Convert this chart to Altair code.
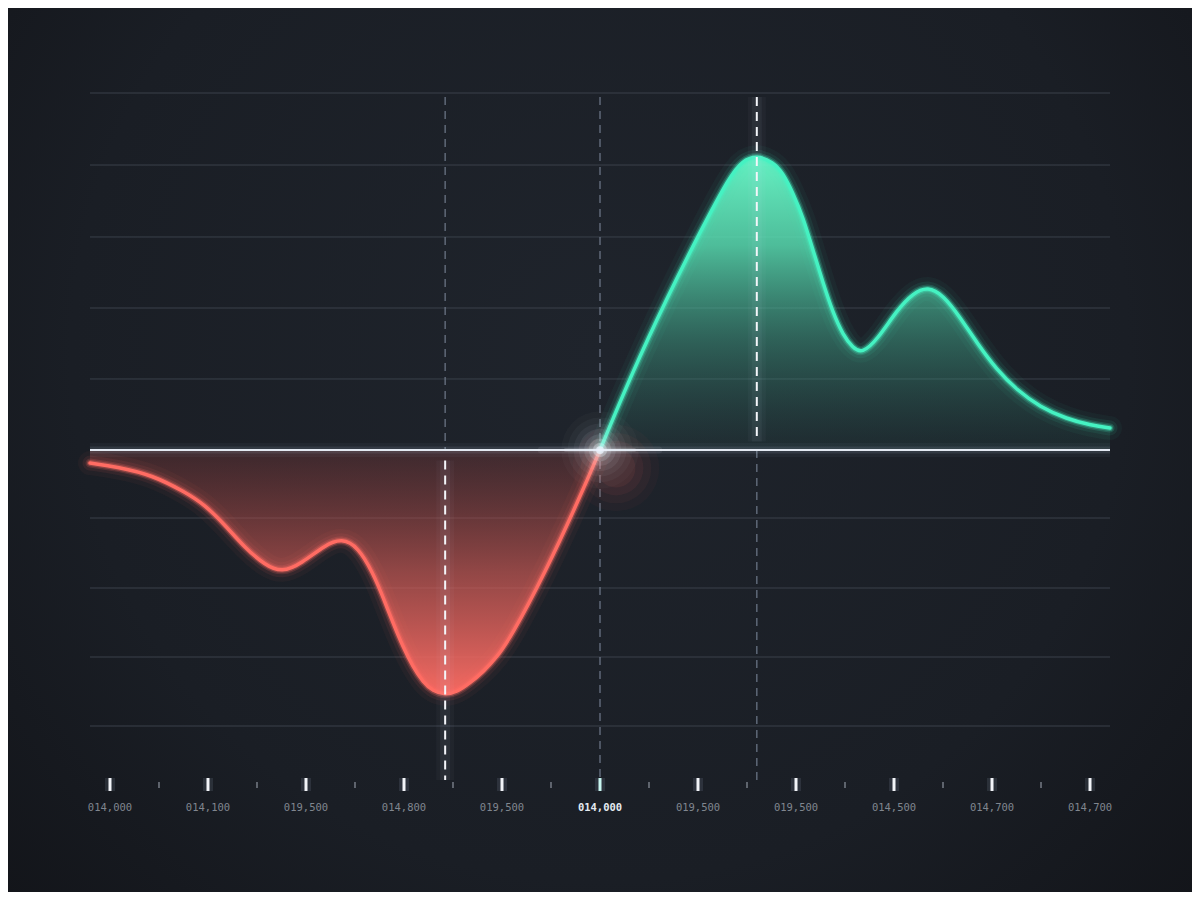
import altair as alt
import pandas as pd

# ---------------- data ----------------
red_x = [-0.204, 0.082, 0.429, 0.765, 0.969, 1.173, 1.378, 1.582, 1.755, 1.959, 2.194, 2.367,
         2.531, 2.684, 2.786, 2.888, 2.990, 3.092, 3.194, 3.296, 3.42, 3.541, 3.673, 3.806,
         3.949, 4.092, 4.439, 4.796, 5.0]
red_y = [-0.185, -0.242, -0.355, -0.597, -0.782, -1.066, -1.393, -1.635, -1.745, -1.607, -1.351, -1.255,
         -1.379, -1.749, -2.090, -2.460, -2.801, -3.085, -3.299, -3.430, -3.480, -3.441, -3.313, -3.157,
         -2.943, -2.659, -1.749, -0.668, 0.0]

green_x = [5.0, 5.327, 5.673, 6.031, 6.327, 6.449, 6.6, 6.765, 6.867, 6.969, 7.071, 7.173, 7.276,
           7.378, 7.480, 7.582, 7.673, 7.827, 8.031, 8.194, 8.347, 8.5, 8.673, 8.847, 9.051,
           9.255, 9.490, 9.765, 10.0, 10.204]
green_y = [0.0, 1.095, 2.133, 3.128, 3.896, 4.110, 4.190, 4.095, 3.939, 3.654, 3.313, 2.844, 2.375,
           1.948, 1.635, 1.450, 1.373, 1.564, 1.991, 2.232, 2.323, 2.204, 1.891, 1.521, 1.137,
           0.853, 0.611, 0.441, 0.355, 0.313]

grid_y = [5.076, 4.052, 3.029, 2.019, 1.010, -0.967, -1.962, -2.943, -3.924]

tick_x = [0, 1, 2, 3, 4, 5, 6, 7, 8, 9, 10]
tick_labels = ["014,000", "014,100", "019,500", "014,800", "019,500", "014,000",
               "019,500", "019,500", "014,500", "014,700", "014,700"]
tick_highlight = [0, 0, 0, 0, 0, 1, 0, 0, 0, 0, 0]
minor_x = [0.5, 1.5, 2.5, 3.5, 4.5, 5.5, 6.5, 7.5, 8.5, 9.5]

faint_marker_x = [3.42, 5.0, 6.6]
faint_marker_top = [5.02, 5.02, 0.0]
faint_marker_bot = [0.0, -4.69, -4.69]
bright_marker_x = [3.42, 6.6]
bright_marker_top = [-0.15, 5.02]
bright_marker_bot = [-4.69, 0.12]

crossing_x = [5.0]
crossing_y = [0.0]

# ---------------- frames ----------------
red = pd.DataFrame({"x": red_x, "y": red_y})
green = pd.DataFrame({"x": green_x, "y": green_y})
grid = pd.DataFrame({"y": grid_y})
ticks = pd.DataFrame({"x": tick_x, "label": tick_labels, "hl": tick_highlight})
faint = pd.DataFrame({"x": faint_marker_x, "y": faint_marker_top, "y2": faint_marker_bot})
bright = pd.DataFrame({"x": bright_marker_x, "y": bright_marker_top, "y2": bright_marker_bot})
zero = pd.DataFrame({"y": [0]})
one = pd.DataFrame({"a": [0]})
cross = pd.DataFrame({"x": crossing_x, "y": crossing_y})
major_span = pd.DataFrame({"x": tick_x, "hl": tick_highlight,
                           "y": [-4.663] * 11, "y2": [-4.848] * 11})
minor_span = pd.DataFrame({"x": minor_x, "y": [-4.72] * 10, "y2": [-4.805] * 10})

XS = alt.Scale(domain=[-0.204, 10.204], nice=False, zero=False)
YS = alt.Scale(domain=[-3.924, 5.076], nice=False, zero=False)


def X(field="x"):
    return alt.X(f"{field}:Q", scale=XS, axis=None)


def Y(field="y"):
    return alt.Y(f"{field}:Q", scale=YS, axis=None)


RED = "#ff6c63"
GREEN = "#45f2c2"
INTERP = "basis"

# background vignette
bg = alt.Chart(one).mark_rect(
    color=alt.Gradient(
        gradient="radial",
        stops=[alt.GradientStop(color="#1f242c", offset=0),
               alt.GradientStop(color="#1a1e25", offset=0.55),
               alt.GradientStop(color="#0f1014", offset=1)],
        x1=0.5, y1=0.42, r1=0, x2=0.5, y2=0.42, r2=0.8),
).encode(x=alt.value(-90), x2=alt.value(1110), y=alt.value(-93), y2=alt.value(807))

grid_layer = alt.Chart(grid).mark_rule(color="#3a404b", strokeWidth=1).encode(y=Y())

faint_layer = alt.Chart(faint).mark_rule(
    color="#6f7a8c", strokeWidth=1.5, strokeDash=[8, 6], opacity=0.8
).encode(x=X(), y=Y(), y2="y2:Q")

green_area = alt.Chart(green).mark_area(
    interpolate=INTERP,
    color=alt.Gradient(
        gradient="linear",
        stops=[alt.GradientStop(color="rgba(105,248,200,0.97)", offset=0),
               alt.GradientStop(color="rgba(90,228,182,0.8)", offset=0.3),
               alt.GradientStop(color="rgba(68,176,146,0.45)", offset=0.62),
               alt.GradientStop(color="rgba(45,110,100,0.12)", offset=1)],
        x1=0, x2=0, y1=0, y2=1),
).encode(x=X(), y=Y(), y2=alt.datum(0))

red_area = alt.Chart(red).mark_area(
    interpolate=INTERP,
    color=alt.Gradient(
        gradient="linear",
        stops=[alt.GradientStop(color="rgba(160,65,62,0.25)", offset=0),
               alt.GradientStop(color="rgba(218,94,88,0.62)", offset=0.5),
               alt.GradientStop(color="rgba(250,108,100,0.97)", offset=1)],
        x1=0, x2=0, y1=0, y2=1),
).encode(x=X(), y=Y(), y2=alt.datum(0))


def glow_lines(df, color):
    layers = []
    for w, o in [(24, 0.045), (15, 0.08), (9, 0.17), (6, 0.33)]:
        layers.append(alt.Chart(df).mark_line(
            interpolate=INTERP, color=color, strokeWidth=w, opacity=o,
            strokeCap="round", strokeJoin="round").encode(x=X(), y=Y()))
    layers.append(alt.Chart(df).mark_line(
        interpolate=INTERP, color=color, strokeWidth=3.5,
        strokeCap="round", strokeJoin="round").encode(x=X(), y=Y()))
    return layers


zero_glow = [alt.Chart(zero).mark_rule(color="#cfe0f5", strokeWidth=w, opacity=o).encode(y=Y())
             for w, o in [(14, 0.04), (7, 0.1)]]
zero_line = alt.Chart(zero).mark_rule(color="#e3e9f2", strokeWidth=2).encode(y=Y())

# soft glow around the zero crossing, built from stacked translucent circles
red_halo = [alt.Chart(cross).mark_circle(color="#ff6c5e", size=s, opacity=o)
            .encode(x=X(), y=Y(), xOffset=alt.value(16), yOffset=alt.value(18))
            for s, o in [(7500, 0.03), (5000, 0.045), (3000, 0.06), (1500, 0.07)]]
white_halo = [alt.Chart(cross).mark_circle(color="#eef4ff", size=s, opacity=o)
              .encode(x=X(), y=Y())
              for s, o in [(6000, 0.025), (4200, 0.035), (2800, 0.05), (1800, 0.07),
                           (1000, 0.1), (500, 0.16), (200, 0.3), (60, 0.7)]]
streak = [alt.Chart(cross).mark_rule(color="#f2f6ff", strokeWidth=w, opacity=o, strokeCap="round")
          .encode(x=X(), y=Y(), x2=alt.datum(5.0 + s * d))
          for w, o, d in [(7, 0.07, 0.6), (4, 0.15, 0.35)] for s in (-1, 1)]

bright_glow = [alt.Chart(bright).mark_rule(color="#dfe8ff", strokeWidth=w, opacity=o)
               .encode(x=X(), y=Y(), y2="y2:Q") for w, o in [(18, 0.03), (10, 0.05)]]
bright_layer = alt.Chart(bright).mark_rule(
    color="#f4f6fa", strokeWidth=2, strokeDash=[9, 6]).encode(x=X(), y=Y(), y2="y2:Q")

# x-axis ticks
major_glow = alt.Chart(major_span).mark_rule(color="#cfe3ff", strokeWidth=10, opacity=0.1).encode(
    x=X(), y=Y(), y2="y2:Q")
major = alt.Chart(major_span).mark_rule(strokeWidth=3).encode(
    x=X(), y=Y(), y2="y2:Q",
    color=alt.condition(alt.datum.hl == 1, alt.value("#c8f6f0"), alt.value("#f2f4f8")))
minor = alt.Chart(minor_span).mark_rule(color="#767c86", strokeWidth=1.5).encode(
    x=X(), y=Y(), y2="y2:Q")

labels = alt.Chart(ticks).transform_filter(alt.datum.hl == 0).mark_text(
    font="DejaVu Sans Mono", fontSize=10.5, color="#80868f", baseline="middle"
).encode(x=X(), y=alt.datum(-5.09, scale=YS), text="label:N")
labels_hl = alt.Chart(ticks).transform_filter(alt.datum.hl == 1).mark_text(
    font="DejaVu Sans Mono", fontSize=10.5, fontWeight="bold", color="#e4e9ef", baseline="middle"
).encode(x=X(), y=alt.datum(-5.09, scale=YS), text="label:N")

layers = ([bg, grid_layer, faint_layer, red_area, green_area] + red_halo
          + glow_lines(red, RED) + glow_lines(green, GREEN)
          + zero_glow + [zero_line] + streak + white_halo
          + bright_glow + [bright_layer, major_glow, major, minor, labels, labels_hl])

chart = alt.layer(*layers).properties(
    width=1020, height=633,
    autosize=alt.AutoSizeParams(type="none"),
    padding={"left": 82, "top": 85, "right": 82, "bottom": 166},
    background="#121418",
).configure_view(stroke=None)

chart.save("out.html", embed_options={"renderer": "svg", "actions": False})
